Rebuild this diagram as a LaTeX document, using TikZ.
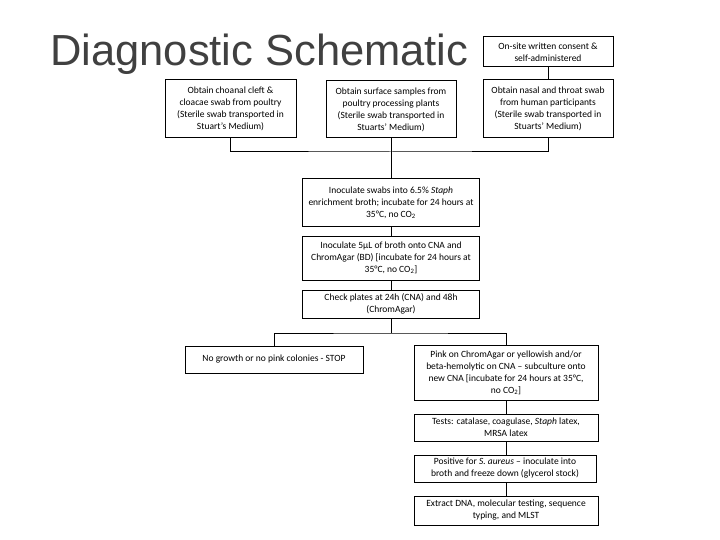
\documentclass[tikz,border=0pt]{standalone}
\usepackage{fontspec}
\setmainfont{Carlito}
\newfontfamily\titlefont{Liberation Sans}
\usetikzlibrary{positioning}
\definecolor{titlegray}{RGB}{64,64,64}
\tikzset{
  fbox/.style={draw=black, line width=1pt, align=center, inner sep=1pt,
    font=\fontsize{9.5}{12}\selectfont, fill=white},
  conn/.style={draw=black, line width=1pt},
}
\begin{document}
\begin{tikzpicture}[x=1pt,y=-1pt]
\useasboundingbox (0,0) rectangle (720,540);
\node[anchor=base west, inner sep=0, text=titlegray, font=\titlefont\fontsize{43.5}{48}\selectfont] (title) at (50,66) {Diagnostic Schematic};

\node[fbox, minimum width=130, minimum height=30] (cons) at (548,52) {On-site written consent \&\\ self-administered};
\node[fbox, minimum width=131, minimum height=58] (b1) at (230.5,109) {Obtain choanal cleft \&\\ cloacae swab from poultry\\ (Sterile swab transported in\\ Stuart's Medium)};
\node[fbox, minimum width=130, minimum height=57] (b2) at (391,109.5) {Obtain surface samples from\\ poultry processing plants\\ (Sterile swab transported in\\ Stuarts' Medium)};
\node[fbox, minimum width=130, minimum height=58] (b3) at (548,109) {Obtain nasal and throat swab\\ from human participants\\ (Sterile swab transported in\\ Stuarts' Medium)};

\node[fbox, minimum width=177, minimum height=48] (b4) at (391,203) {Inoculate swabs into 6.5\% \textit{Staph}\\ enrichment broth; incubate for 24 hours at\\ 35°C, no CO\textsubscript{2}};
\node[fbox, minimum width=177, minimum height=44] (b5) at (391,258) {Inoculate 5µL of broth onto CNA and\\ ChromAgar (BD) [incubate for 24 hours at\\ 35°C, no CO\textsubscript{2}]};
\node[fbox, minimum width=177, minimum height=28] (b6) at (391,304) {Check plates at 24h (CNA) and 48h\\ (ChromAgar)};

\node[fbox, minimum width=178, minimum height=27] (b7) at (274,359.5) {No growth or no pink colonies - STOP};
\node[fbox, minimum width=184, minimum height=55] (b8) at (506,372.5) {Pink on ChromAgar or yellowish and/or\\ beta-hemolytic on CNA -- subculture onto\\ new CNA [incubate for 24 hours at 35°C,\\ no CO\textsubscript{2}]};
\node[fbox, minimum width=184, minimum height=27] (b9) at (506,427.5) {Tests: catalase, coagulase, \textit{Staph} latex,\\ MRSA latex};
\node[fbox, minimum width=182, minimum height=27] (b10) at (505,468.5) {Positive for \textit{S. aureus} -- inoculate into\\ broth and freeze down (glycerol stock)};
\node[fbox, minimum width=184, minimum height=29] (b11) at (506,510.5) {Extract DNA, molecular testing, sequence\\ typing, and MLST};

\coordinate (j1) at (391,152);
\coordinate (j2) at (391,333);

\draw[conn] (cons) -- (b3);
\draw[conn] (b1.south) |- (j1) -| (b3.south);
\draw[conn] (b2.south) -- (b4.north);
\draw[conn] (b4) -- (b5);
\draw[conn] (b5) -- (b6);
\draw[conn] (b6.south) -- (j2);
\draw[conn] (b7.north) |- (j2) -| (b8.north);
\draw[conn] (b8) -- (b9);
\draw[conn] (b9.south) -- (b9.south |- b10.north);
\draw[conn] (b10.south -| b9.south) -- (b11.north);
\end{tikzpicture}
\end{document}
